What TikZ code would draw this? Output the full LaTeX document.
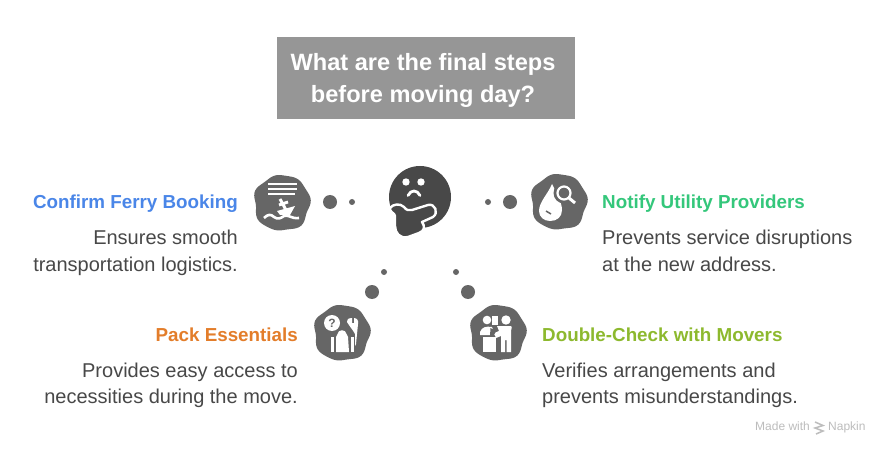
\documentclass[tikz,border=0pt]{standalone}
\usepackage{fontspec}
\setmainfont{Liberation Sans}
\definecolor{blobc}{HTML}{666666}
\definecolor{facec}{HTML}{484848}
\definecolor{titlec}{HTML}{969696}
\definecolor{bodyc}{HTML}{484848}
\definecolor{cblue}{HTML}{4A86E8}
\definecolor{cgreen}{HTML}{34C77B}
\definecolor{corange}{HTML}{E37D2A}
\definecolor{clime}{HTML}{8DB92E}
\definecolor{wmc}{HTML}{BDBDBD}
\tikzset{
  headE/.style={anchor=base east,inner sep=0pt,font=\fontsize{18.8}{23}\selectfont\bfseries},
  headW/.style={anchor=base west,inner sep=0pt,font=\fontsize{18.8}{23}\selectfont\bfseries},
  bodyE/.style={anchor=base east,inner sep=0pt,text=bodyc,font=\fontsize{20}{24}\selectfont},
  bodyW/.style={anchor=base west,inner sep=0pt,text=bodyc,font=\fontsize{20}{24}\selectfont},
  titletext/.style={anchor=base,inner sep=0pt,text=white,font=\fontsize{23.6}{28}\selectfont\bfseries},
  wm/.style={anchor=base west,inner sep=0pt,text=wmc,font=\fontsize{12}{14}\selectfont},
  bigdot/.style={fill=blobc},
  smalldot/.style={fill=blobc},
  ico/.style={fill=white,draw=none}
}
\newcommand{\blobshape}[1]{%
  \fill[blobc,shift={(#1)}] plot[smooth cycle,domain=0:355,samples=72,variable=\a]
   ({(28+0.8*cos(7*\a+25)+0.7*cos(5*\a+60)+0.5*cos(4*\a+180))*cos(\a)},{(28+0.8*cos(7*\a+25)+0.7*cos(5*\a+60)+0.5*cos(4*\a+180))*sin(\a)});
}
\begin{document}
\begin{tikzpicture}[x=1pt,y=-1pt]
\useasboundingbox (0,0) rectangle (888,454);
\fill[white] (0,0) rectangle (888,454);
% title
\fill[titlec] (277,37) rectangle (575,119);
\node[titletext] (t1) at (423,71) {What are the final steps};
\node[titletext] (t2) at (423,103) {before moving day?};
% dots
\fill[bigdot] (330,202) circle (7);
\fill[smalldot] (352,202) circle (3);
\fill[smalldot] (488,202) circle (3);
\fill[bigdot] (510,202) circle (7);
\fill[smalldot] (384,272) circle (3);
\fill[bigdot] (372,292) circle (7);
\fill[smalldot] (456,272) circle (3);
\fill[bigdot] (468,292) circle (7);
% face
\fill[facec] (420,197) circle (31);
\fill[white] (406,182) circle (3.7);
\fill[white] (421,182) circle (3.7);
\draw[white,line width=2.8,line cap=round] (408,195.5) .. controls (411,189.5) and (417,189.5) .. (420,195.5);
\fill[facec,draw=white,line width=2.4,line join=round]
  (390,208) .. controls (393,204) and (400,203) .. (404,207)
  .. controls (406,210) and (409,211) .. (412,210)
  -- (428,205) .. controls (435,203) and (439,213) .. (433,217)
  -- (422,222) .. controls (425,226) and (425,231) .. (419,233)
  -- (408,237) .. controls (400,239) and (395,233) .. (395,226)
  -- (395,216) .. controls (395,213) and (389,212) .. (390,208) -- cycle;
% ferry blob
\blobshape{282,203}
\draw[white,line width=2.4] (268,184) -- (297,184) (268,189) -- (297,189) (268,194) -- (295,194);
\fill[ico] (277,211) -- (295,206) -- (290,215) -- (280,215) -- cycle;
\draw[white,line width=3] (280,199) -- (286,210) (279,205) -- (288,202);
\draw[white,line width=2.6] (264,218) .. controls (268,214) and (271,214) .. (274,217)
 .. controls (278,220) and (281,218) .. (284,216) .. controls (288,214) and (291,219) .. (299,218);
% notify blob
\blobshape{559,202}
\fill[ico] (552,184) .. controls (548,194) and (539,202) .. (539,211)
  .. controls (539,217) and (544,221) .. (550,221)
  .. controls (557,221) and (562,217) .. (562,210)
  .. controls (562,203) and (557,194) .. (552,184) -- cycle;
\fill[blobc] (564,193) circle (10.5);
\draw[white,line width=2.2] (564,193) circle (6.5);
\draw[white,line width=3] (569,198) -- (575,203);
\draw[blobc,line width=1.5] (546,211) -- (551,214);
% pack blob
\blobshape{342,333}
\fill[ico] (332,323) circle (8);
\node[inner sep=0pt,text=blobc,font=\fontsize{12}{12}\selectfont\bfseries] (q) at (332,323) {?};
\fill[ico] (331,337) rectangle (334,352);
\fill[ico] (336,337) -- (337.5,334) .. controls (338,329) and (346,329) .. (346.5,334) -- (348,337) -- (349,352) -- (336,352) -- cycle;
\fill[ico] (351,337) rectangle (354,352);
\fill[ico] (347,322) .. controls (347,319) and (350,317) .. (352,318)
  -- (352,323) -- (354,323) -- (354,318) .. controls (357,318) and (359,321) .. (358,324)
  -- (356,344) -- (355,346) -- (355,334) .. controls (353,330) and (350,327) .. (347,322) -- cycle;
% movers blob
\blobshape{498,333}
\fill[ico] (487,320) circle (4.3);
\fill[ico] (506,320) circle (4.7);
\fill[ico] (492,316) rectangle (498,325);
\fill[ico] (480,335) -- (480,332) .. controls (482,327) and (486,326) .. (492,327) -- (495,335) -- cycle;
\fill[ico] (483,337) rectangle (496,352);
\fill[ico] (497,326) -- (511,326) .. controls (513,326) and (511,328) .. (511,331) -- (511,352) -- (506.5,352) -- (506.5,340) -- (505,340) -- (505,352) -- (501,352) -- (501,336) -- (496,338) -- (494,333) -- (499,331) -- cycle;
\fill[blobc] (490.5,328) -- (496,331) -- (493,337) -- (490,336) -- cycle;
% left texts
\node[headE,text=cblue] (h1) at (238,209) {Confirm Ferry Booking};
\node[bodyE] (b1a) at (238,245) {Ensures smooth};
\node[bodyE] (b1b) at (238,271) {transportation logistics.};
\node[headW,text=cgreen] (h2) at (602,209) {Notify Utility Providers};
\node[bodyW] (b2a) at (602,245) {Prevents service disruptions};
\node[bodyW] (b2b) at (602,271) {at the new address.};
\node[headE,text=corange] (h3) at (298,341) {Pack Essentials};
\node[bodyE] (b3a) at (298,377) {Provides easy access to};
\node[bodyE] (b3b) at (298,403) {necessities during the move.};
\node[headW,text=clime] (h4) at (542,341) {Double-Check with Movers};
\node[bodyW] (b4a) at (542,377) {Verifies arrangements and};
\node[bodyW] (b4b) at (542,403) {prevents misunderstandings.};
% watermark
\node[wm] (w1) at (755,430) {Made with};
\draw[wmc,line width=1.5] (815,422) -- (823,425.5) -- (815,428) -- (823,431) -- (816,434);
\node[wm] (w2) at (828,430) {Napkin};
\end{tikzpicture}
\end{document}
